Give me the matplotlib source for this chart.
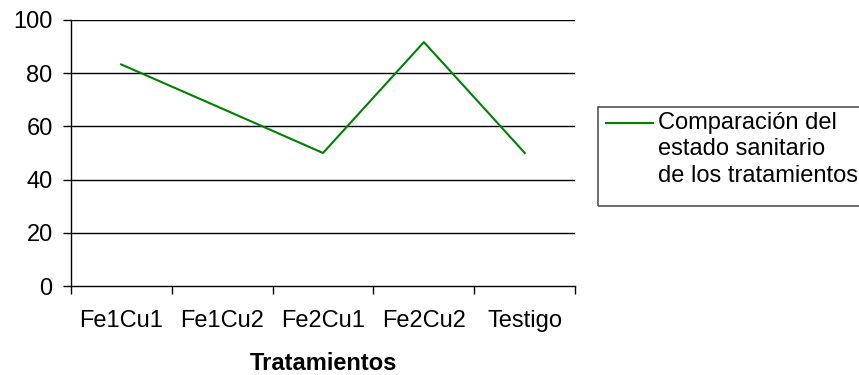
import matplotlib.pyplot as plt
from matplotlib.lines import Line2D
from matplotlib.patches import Rectangle

plt.rcParams["font.family"] = ["Liberation Sans", "DejaVu Sans"]

# data
tratamientos = ["Fe1Cu1", "Fe1Cu2", "Fe2Cu1", "Fe2Cu2", "Testigo"]
estado_sanitario = [83.3, 66.7, 50.0, 91.7, 50.0]
y_ticks = [0, 20, 40, 60, 80, 100]

fs = 17

fig = plt.figure(figsize=(8.59, 3.75), dpi=100)
ax = fig.add_axes([0.0823, 0.2373, 0.5874, 0.7094])

x = range(len(tratamientos))
ax.plot(x, estado_sanitario, color="#008000", lw=1.5)

ax.set_xlim(-0.5, len(tratamientos) - 0.5)
ax.set_ylim(0, 100)

# horizontal grid at every major y tick
for v in y_ticks[1:]:
    ax.axhline(v, color="black", lw=1.0, zorder=0)

ax.set_yticks(y_ticks)
ax.tick_params(axis="y", direction="out", length=6, width=1, pad=7, labelsize=fs)

# labels sit in the middle of each category, ticks sit on the boundaries
ax.set_xticks(list(x))
ax.set_xticklabels(tratamientos)
ax.set_xticks([i - 0.5 for i in range(len(tratamientos) + 1)], minor=True)
ax.tick_params(axis="x", which="major", length=0, pad=17, labelsize=fs)
ax.tick_params(axis="x", which="minor", direction="out", length=6, width=1)

for side in ["top", "right"]:
    ax.spines[side].set_visible(False)
for side in ["left", "bottom"]:
    ax.spines[side].set_linewidth(1)

ax.set_xlabel("Tratamientos", fontsize=fs, fontweight="bold", labelpad=15)

# legend box to the right of the plot
W, H = 859.0, 375.0
fig.patches.append(Rectangle((598 / W, 1 - 206 / H), 270 / W, 99 / H,
                             transform=fig.transFigure, fill=False,
                             edgecolor="#555555", lw=1.2))
fig.lines.append(Line2D([606 / W, 653 / W], [1 - 123 / H, 1 - 123 / H],
                        transform=fig.transFigure, color="#008000", lw=1.5))
fig.text(658 / W, 1 - 112 / H, "Comparación del\nestado sanitario\nde los tratamientos",
         fontsize=fs, va="top", ha="left", linespacing=1.25)

fig.savefig("out.png", dpi=100)
